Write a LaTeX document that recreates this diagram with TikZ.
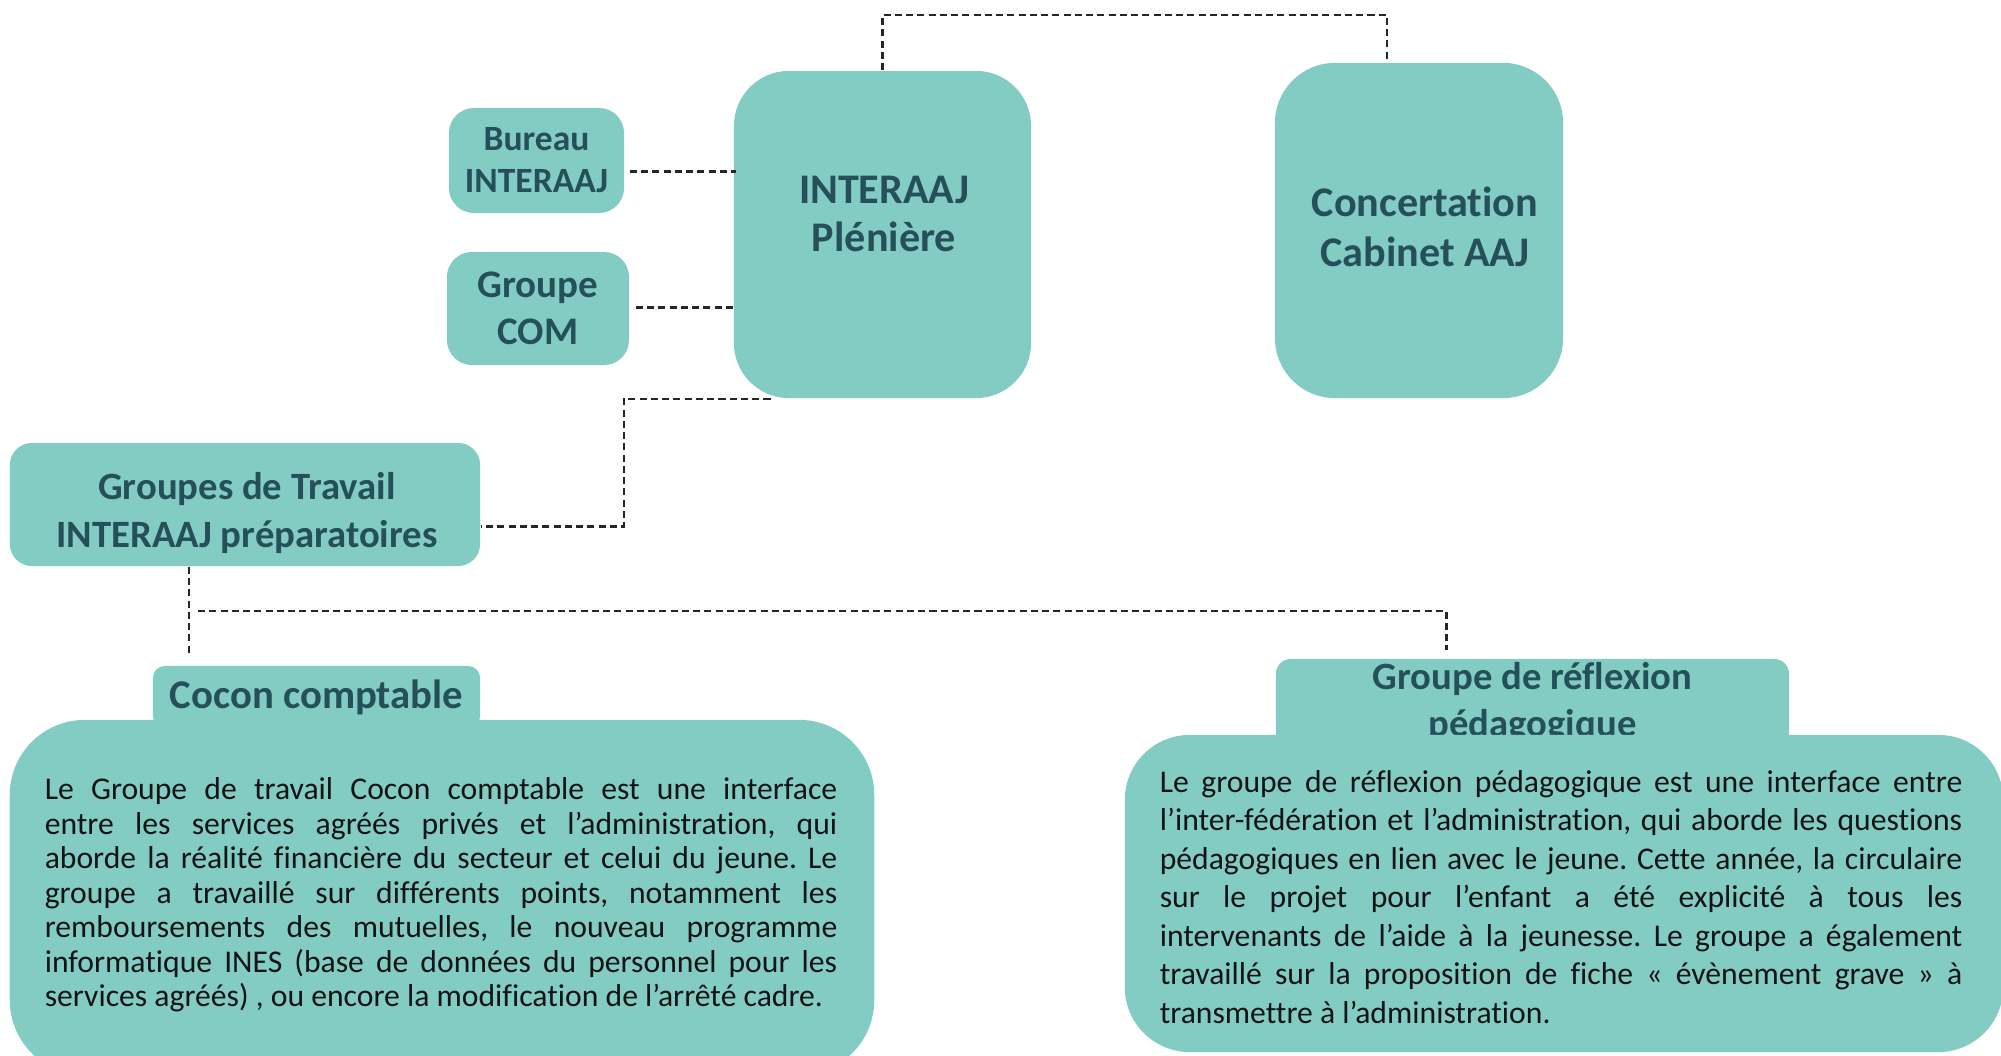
\documentclass[tikz,border=0pt]{standalone}
\usepackage{fontspec}
\setmainfont[Ligatures=NoCommon]{Carlito}
\usepackage{tikz}
\usetikzlibrary{calc,positioning}
\setlength{\parindent}{0pt}
\frenchspacing

\definecolor{tilefill}{HTML}{82CCC4}
\definecolor{headtxt}{HTML}{25505A}

\begin{document}
\begin{tikzpicture}[x=0.01cm, y=-0.01cm,
	tile/.style={fill=tilefill, inner sep=0pt, text=headtxt, align=center},
	link/.style={draw=black!85, line width=0.6pt, dash pattern=on 2pt off 1.2pt},
	bodytext/.style={inner sep=0pt, align=justify, text=black!92}]
	\useasboundingbox (0,0) rectangle (2001,1055);
	\clip (0,0) rectangle (2001,1055);

	% top row
	\node[tile, rounded corners=0.55cm, minimum width=2.97cm, minimum height=3.27cm] (plen) at (882.5,234.5) {};
	\node[tile, fill=none, font=\bfseries\fontsize{12}{13.7}\selectfont] (plentxt) at (884,214) {INTERAAJ\\Plénière};
	\node[tile, rounded corners=0.6cm, minimum width=2.88cm, minimum height=3.35cm] (conc) at (1419,230.5) {};
	\node[tile, fill=none, font=\bfseries\fontsize{12}{14.2}\selectfont] (conctxt) at (1425,227) {Concertation\\Cabinet AAJ};
	\node[tile, rounded corners=0.25cm, minimum width=1.75cm, minimum height=1.05cm,
		font=\bfseries\fontsize{10.1}{11.9}\selectfont] (bur) at (536.5,160.5) {Bureau\\INTERAAJ};
	\node[tile, rounded corners=0.25cm, minimum width=1.82cm, minimum height=1.13cm,
		font=\bfseries\fontsize{11.1}{13.4}\selectfont] (com) at (538,308.5) {Groupe\\COM};
	\node[tile, rounded corners=0.22cm, minimum width=4.7cm, minimum height=1.23cm] (grp) at (245,504.5) {};
	\node[tile, fill=none, font=\bfseries\fontsize{11}{13.6}\selectfont] (grptxt) at (247,513) {Groupes de Travail\\INTERAAJ préparatoires};

	% working groups
	\node[tile, rounded corners=0.12cm, minimum width=3.27cm, minimum height=0.62cm,
		font=\bfseries\fontsize{11.6}{13.6}\selectfont] (cocontab) at (316.5,697) {Cocon comptable};
	\node[tile, rounded corners=0.75cm, minimum width=8.64cm, minimum height=3.55cm] (cocon) at (442,897.5) {};
	\node[bodytext, text width=7.92cm, font=\fontsize{9}{9.8}\selectfont] (cocontxt) at (441,895) {%
		Le Groupe de travail Cocon comptable est une interface\linebreak
		entre les services agréés privés et l’administration, qui\linebreak
		aborde la réalité financière du secteur et celui du jeune. Le\linebreak
		groupe a travaillé sur différents points, notamment les\linebreak
		remboursements des mutuelles, le nouveau programme\linebreak
		informatique INES (base de données du personnel pour les\linebreak
		services agréés) , ou encore la modification de l’arrêté cadre.};

	\node[tile, rounded corners=0.15cm, minimum width=5.13cm, minimum height=0.87cm,
		font=\bfseries\fontsize{11}{13.4}\selectfont] (refltab) at (1532.5,702.5) {Groupe de réflexion\\pédagogique};
	\node[tile, rounded corners=0.65cm, minimum width=8.78cm, minimum height=3.17cm] (refl) at (1564,893.5) {};
	\node[bodytext, text width=8.02cm, font=\fontsize{9}{10.95}\selectfont] (refltxt) at (1561,897) {%
		Le groupe de réflexion pédagogique est une interface entre\linebreak
		l’inter-fédération et l’administration, qui aborde les questions\linebreak
		pédagogiques en lien avec le jeune. Cette année, la circulaire\linebreak
		sur le projet pour l’enfant a été explicité à tous les\linebreak
		intervenants de l’aide à la jeunesse. Le groupe a également\linebreak
		travaillé sur la proposition de fiche « évènement grave » à\linebreak
		transmettre à l’administration.};

	% dashed links
	\coordinate (topbar) at (0,15);
	\coordinate (split) at (198,611);
	\draw[link] (plen.north) -- (plen.north |- topbar) -| ($(conc.north)+(-32,0)$);
	\draw[link] ($(bur.east)+(5,11)$) -- ($(bur.east -| plen.west)+(3,11)$);
	\draw[link] ($(com.east)+(6,-1)$) -- ($(com.east -| plen.west)+(0,-1)$);
	\draw[link] ($(plen.south)+(-112,0)$) -| ($(grp.east)+(143,22)$) -- ($(grp.east)+(0,22)$);
	\draw[link] ($(grp.south)+(-56,0)$) -- ($(grp.south)+(-56,89)$);
	\draw[link] (split) -| ($(refltab.north)+(-86,-8)$);
\end{tikzpicture}
\end{document}
